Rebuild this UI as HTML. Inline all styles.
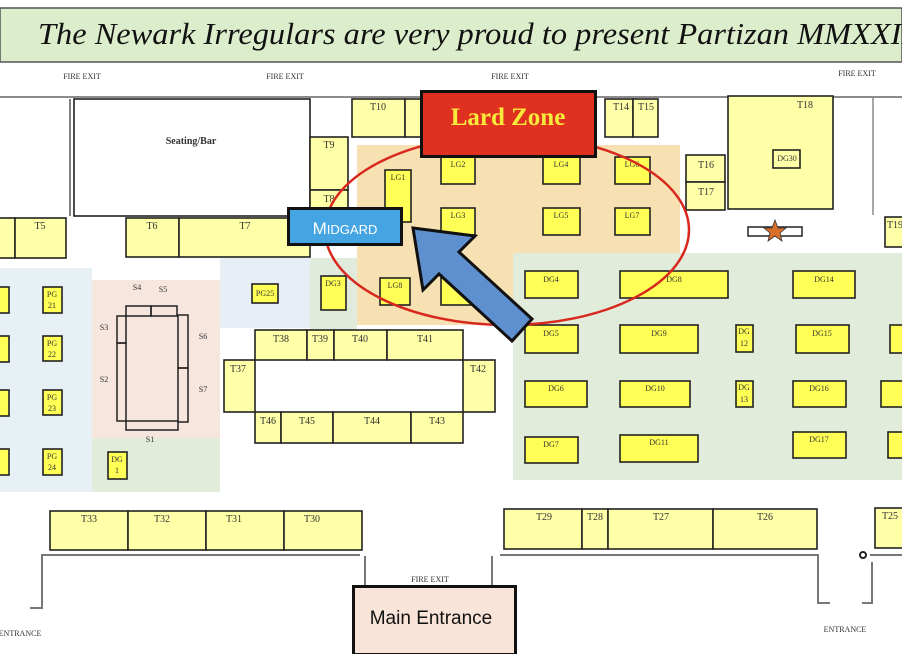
<!DOCTYPE html>
<html><head><meta charset="utf-8"><style>
html,body{margin:0;padding:0;background:#fff;}
svg{display:block;}
.t{fill:#ffffa8;stroke:#222;stroke-width:1.6;}
.y{fill:#ffff55;stroke:#222;stroke-width:1.6;}
.l{font-family:"Liberation Serif",serif;font-size:10px;fill:#333;text-anchor:middle;}
.s{font-family:"Liberation Serif",serif;font-size:8px;fill:#333;text-anchor:middle;}
</style></head><body>
<svg width="902" height="654" viewBox="0 0 902 654" xmlns="http://www.w3.org/2000/svg">
<rect width="902" height="654" fill="#fff"/>
<!-- header -->
<rect x="0" y="8" width="902" height="54" fill="#dcedcc" stroke="#555" stroke-width="1.5"/>
<text x="38" y="44" font-family="Liberation Serif,serif" font-style="italic" font-size="31" fill="#111" textLength="885" lengthAdjust="spacingAndGlyphs">The Newark Irregulars are very proud to present Partizan MMXXIII</text>
<!-- top wall -->
<line x1="0" y1="97" x2="902" y2="97" stroke="#666" stroke-width="1.5"/>
<text x="82" y="79" class="s" font-size="6">FIRE EXIT</text>
<text x="285" y="79" class="s" font-size="6">FIRE EXIT</text>
<text x="510" y="79" class="s" font-size="6">FIRE EXIT</text>
<text x="857" y="76" class="s" font-size="6">FIRE EXIT</text>
<line x1="873" y1="97" x2="873" y2="215" stroke="#888" stroke-width="1.5"/>
<!-- backgrounds -->
<rect x="357" y="145" width="323" height="108" fill="#f7e0b2"/>
<rect x="357" y="253" width="156" height="72" fill="#f7e0b2"/>
<rect x="513" y="253" width="389" height="227" fill="#e2ecda"/>
<rect x="0" y="268" width="92" height="224" fill="#e6f0f5"/>
<rect x="92" y="280" width="128" height="158" fill="#f6e6de"/>
<rect x="92" y="438" width="128" height="54" fill="#e2ecdb"/>
<rect x="220" y="258" width="90" height="70" fill="#e8eef6"/>
<rect x="310" y="258" width="47" height="72" fill="#e0ebdc"/>
<!-- seating -->
<rect x="74" y="99" width="236" height="117" fill="#fff" stroke="#222" stroke-width="1.6"/>
<text x="191" y="144" class="l" font-weight="bold">Seating/Bar</text>
<line x1="70" y1="99" x2="70" y2="216" stroke="#555" stroke-width="1.5"/>
<!-- top tables -->
<rect x="352" y="99" width="53" height="38" class="t"/><text x="378" y="110" class="l">T10</text>
<rect x="405" y="99" width="20" height="38" class="t"/>
<rect x="605" y="99" width="28" height="38" class="t"/><text x="621" y="110" class="l">T14</text>
<rect x="633" y="99" width="25" height="38" class="t"/><text x="646" y="110" class="l">T15</text>
<rect x="310" y="137" width="38" height="53" class="t"/><text x="329" y="148" class="l">T9</text>
<rect x="310" y="190" width="38" height="42" class="t"/><text x="329" y="202" class="l">T8</text>
<rect x="686" y="155" width="39" height="27" class="t"/><text x="706" y="168" class="l">T16</text>
<rect x="686" y="182" width="39" height="28" class="t"/><text x="706" y="195" class="l">T17</text>
<rect x="728" y="96" width="105" height="113" class="t"/><text x="805" y="108" class="l">T18</text>
<rect x="773" y="150" width="27" height="18" class="t"/><text x="787" y="161" class="s">DG30</text>
<rect x="748" y="227" width="54" height="9" fill="#fff" stroke="#222" stroke-width="1.5"/>
<polygon points="775,220 778,228 786,228 780,233 782,241 775,236 768,241 770,233 764,228 772,228" fill="#d8702a" stroke="#333" stroke-width="0.8"/>
<rect x="885" y="217" width="20" height="30" class="t"/><text x="895" y="228" class="l">T19</text>
<rect x="-2" y="218" width="17" height="40" class="t"/>
<rect x="15" y="218" width="51" height="40" class="t"/><text x="40" y="229" class="l">T5</text>
<rect x="126" y="218" width="53" height="39" class="t"/><text x="152" y="229" class="l">T6</text>
<rect x="179" y="218" width="131" height="39" class="t"/><text x="245" y="229" class="l">T7</text>
<!-- LG -->
<rect x="385" y="170" width="26" height="52" class="y"/><text x="398" y="180" class="s">LG1</text>
<rect x="441" y="157" width="34" height="27" class="y"/><text x="458" y="167" class="s">LG2</text>
<rect x="543" y="157" width="37" height="27" class="y"/><text x="561" y="167" class="s">LG4</text>
<rect x="615" y="157" width="35" height="27" class="y"/><text x="632" y="167" class="s">LG6</text>
<rect x="441" y="208" width="34" height="27" class="y"/><text x="458" y="218" class="s">LG3</text>
<rect x="543" y="208" width="37" height="27" class="y"/><text x="561" y="218" class="s">LG5</text>
<rect x="615" y="208" width="35" height="27" class="y"/><text x="632" y="218" class="s">LG7</text>
<rect x="380" y="278" width="30" height="27" class="y"/><text x="395" y="288" class="s">LG8</text>
<rect x="441" y="278" width="30" height="27" class="y"/>
<!-- PG -->
<rect x="-5" y="287" width="14" height="26" class="y"/>
<rect x="-5" y="336" width="14" height="26" class="y"/>
<rect x="-5" y="390" width="14" height="26" class="y"/>
<rect x="-5" y="449" width="14" height="26" class="y"/>
<rect x="43" y="287" width="19" height="26" class="y"/><text x="52" y="297" class="s">PG</text><text x="52" y="308" class="s">21</text>
<rect x="43" y="336" width="19" height="25" class="y"/><text x="52" y="346" class="s">PG</text><text x="52" y="357" class="s">22</text>
<rect x="43" y="390" width="19" height="25" class="y"/><text x="52" y="400" class="s">PG</text><text x="52" y="411" class="s">23</text>
<rect x="43" y="449" width="19" height="26" class="y"/><text x="52" y="459" class="s">PG</text><text x="52" y="470" class="s">24</text>
<rect x="252" y="284" width="26" height="19" class="y"/><text x="265" y="296" class="s">PG25</text>
<rect x="321" y="276" width="25" height="34" class="y"/><text x="333" y="286" class="s">DG3</text>
<rect x="108" y="452" width="19" height="27" class="y"/><text x="117" y="462" class="s">DG</text><text x="117" y="473" class="s">1</text>
<!-- S shape -->
<g fill="none" stroke="#222" stroke-width="1.5">
<rect x="126" y="306" width="25" height="10"/><rect x="151" y="306" width="26" height="10"/>
<rect x="117" y="316" width="9" height="27"/><rect x="117" y="343" width="9" height="78"/>
<rect x="178" y="315" width="10" height="53"/><rect x="178" y="368" width="10" height="54"/>
<rect x="126" y="421" width="52" height="9"/>
</g>
<text x="137" y="290" class="s" font-size="9">S4</text><text x="163" y="292" class="s" font-size="9">S5</text>
<text x="104" y="330" class="s" font-size="9">S3</text><text x="104" y="382" class="s" font-size="9">S2</text>
<text x="203" y="339" class="s" font-size="9">S6</text><text x="203" y="392" class="s" font-size="9">S7</text>
<text x="150" y="442" class="s" font-size="9">S1</text>
<!-- T block centre -->
<rect x="255" y="330" width="52" height="30" class="t"/><text x="281" y="342" class="l">T38</text>
<rect x="307" y="330" width="27" height="30" class="t"/><text x="320" y="342" class="l">T39</text>
<rect x="334" y="330" width="53" height="30" class="t"/><text x="360" y="342" class="l">T40</text>
<rect x="387" y="330" width="76" height="30" class="t"/><text x="425" y="342" class="l">T41</text>
<rect x="224" y="360" width="31" height="52" class="t"/><text x="238" y="372" class="l">T37</text>
<rect x="463" y="360" width="32" height="52" class="t"/><text x="478" y="372" class="l">T42</text>
<rect x="255" y="412" width="26" height="31" class="t"/><text x="268" y="424" class="l">T46</text>
<rect x="281" y="412" width="52" height="31" class="t"/><text x="307" y="424" class="l">T45</text>
<rect x="333" y="412" width="78" height="31" class="t"/><text x="372" y="424" class="l">T44</text>
<rect x="411" y="412" width="52" height="31" class="t"/><text x="437" y="424" class="l">T43</text>
<!-- DG -->
<rect x="525" y="271" width="53" height="27" class="y"/><text x="551" y="282" class="s">DG4</text>
<rect x="620" y="271" width="108" height="27" class="y"/><text x="674" y="282" class="s">DG8</text>
<rect x="793" y="271" width="62" height="27" class="y"/><text x="824" y="282" class="s">DG14</text>
<rect x="525" y="325" width="53" height="28" class="y"/><text x="551" y="336" class="s">DG5</text>
<rect x="620" y="325" width="78" height="28" class="y"/><text x="659" y="336" class="s">DG9</text>
<rect x="736" y="325" width="17" height="27" class="y"/><text x="744" y="334" class="s">DG</text><text x="744" y="346" class="s">12</text>
<rect x="796" y="325" width="53" height="28" class="y"/><text x="822" y="336" class="s">DG15</text>
<rect x="890" y="325" width="20" height="28" class="y"/>
<rect x="525" y="381" width="62" height="26" class="y"/><text x="556" y="391" class="s">DG6</text>
<rect x="620" y="381" width="70" height="26" class="y"/><text x="655" y="391" class="s">DG10</text>
<rect x="736" y="381" width="17" height="26" class="y"/><text x="744" y="390" class="s">DG</text><text x="744" y="402" class="s">13</text>
<rect x="793" y="381" width="53" height="26" class="y"/><text x="819" y="391" class="s">DG16</text>
<rect x="881" y="381" width="25" height="26" class="y"/>
<rect x="525" y="437" width="53" height="26" class="y"/><text x="551" y="447" class="s">DG7</text>
<rect x="620" y="435" width="78" height="27" class="y"/><text x="659" y="445" class="s">DG11</text>
<rect x="793" y="432" width="53" height="26" class="y"/><text x="819" y="442" class="s">DG17</text>
<rect x="888" y="432" width="20" height="26" class="y"/>
<!-- bottom tables -->
<rect x="50" y="511" width="78" height="39" class="t"/><text x="89" y="522" class="l">T33</text>
<rect x="128" y="511" width="78" height="39" class="t"/><text x="162" y="522" class="l">T32</text>
<rect x="206" y="511" width="78" height="39" class="t"/><text x="234" y="522" class="l">T31</text>
<rect x="284" y="511" width="78" height="39" class="t"/><text x="312" y="522" class="l">T30</text>
<rect x="504" y="509" width="78" height="40" class="t"/><text x="544" y="520" class="l">T29</text>
<rect x="582" y="509" width="26" height="40" class="t"/><text x="595" y="520" class="l">T28</text>
<rect x="608" y="509" width="105" height="40" class="t"/><text x="661" y="520" class="l">T27</text>
<rect x="713" y="509" width="104" height="40" class="t"/><text x="765" y="520" class="l">T26</text>
<rect x="875" y="508" width="30" height="40" class="t"/><text x="890" y="519" class="l">T25</text>
<!-- bottom walls -->
<g fill="none" stroke="#777" stroke-width="2">
<polyline points="360,555 42,555 42,608 30,608"/>
<polyline points="500,555 818,555 818,603 830,603"/>
<polyline points="870,555 902,555"/>
<polyline points="872,562 872,603 862,603"/>
<line x1="365" y1="556" x2="365" y2="585"/><line x1="492" y1="556" x2="492" y2="585"/>
</g>
<text x="20" y="636" class="s" font-size="6">ENTRANCE</text>
<text x="845" y="632" class="s" font-size="6">ENTRANCE</text>
<text x="430" y="582" class="s" font-size="6">FIRE EXIT</text>
<circle cx="863" cy="555" r="3" fill="none" stroke="#222" stroke-width="2"/>
<!-- ellipse -->
<ellipse cx="507" cy="230" rx="182" ry="95" fill="none" stroke="#d8281e" stroke-width="2.5"/>
<!-- arrow -->
<polygon points="413,228 475,236 459,252 532,319 512,341 439,274 423,290" fill="#5e90d0" stroke="#111" stroke-width="3" stroke-linejoin="miter"/>
<!-- labels -->
<rect x="421.5" y="91.5" width="174" height="65" fill="#e0301f" stroke="#111" stroke-width="3"/>
<text x="508" y="125" font-family="Liberation Serif,serif" font-weight="bold" font-size="25" fill="#f8ea3a" text-anchor="middle">Lard Zone</text>
<rect x="288.5" y="208.5" width="113" height="36" fill="#45a5e2" stroke="#111" stroke-width="3"/>
<text x="345" y="234" font-family="Liberation Sans,sans-serif" font-size="17" fill="#fff" text-anchor="middle">M<tspan font-size="13">IDGARD</tspan></text>
<rect x="353.5" y="586.5" width="162" height="68" fill="#f8e4d8" stroke="#111" stroke-width="3"/>
<text x="431" y="624" font-family="Liberation Sans,sans-serif" font-size="19" fill="#111" text-anchor="middle">Main Entrance</text>
</svg>
</body></html>
